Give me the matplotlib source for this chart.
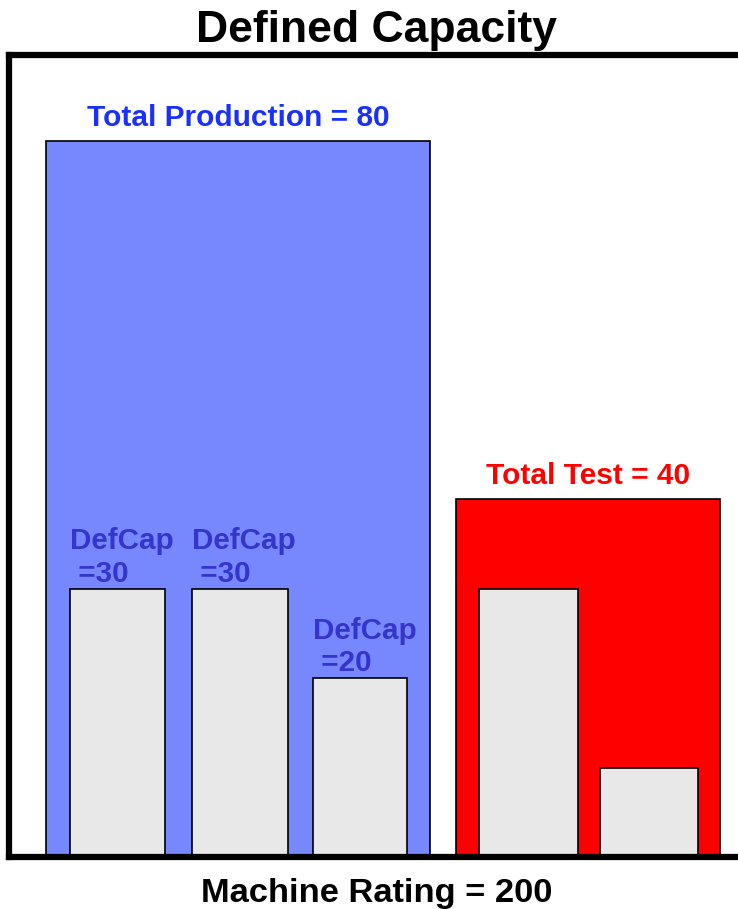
import matplotlib
matplotlib.use("Agg")
import matplotlib.pyplot as plt

# capacity figures shown in the diagram
group_names = ["Total Production", "Total Test"]
group_totals = [80, 40]
prod_defcap = [30, 30, 20]
test_defcap = [30, 10]
machine_rating = 200

# layout: x in pixel columns, y in capacity units
group_x = [(46, 430), (456, 720)]
prod_x = [(70, 165), (192, 288), (313, 407)]
test_x = [(479, 578), (600, 698)]
group_colors = ["#7788FF", "#FF0000"]
label_colors = ["#1A30FF", "#FF0000"]
defcap_color = "#3535CC"
inner_color = "#E8E8E8"

W, H = 738, 909
px_per_unit = 8.95
y_bottom, y_top = 857, 55

plt.rcParams['font.family'] = ['Liberation Sans', 'DejaVu Sans']
fig = plt.figure(figsize=(W / 100, H / 100), dpi=100)
ax = fig.add_axes([9 / W, (H - y_bottom) / H, 1 - 9 / W, (y_bottom - y_top) / H])
ax.set_xlim(9, W)
ax.set_ylim(0, (y_bottom - y_top) / px_per_unit)

# group boxes
for (x0, x1), total, name, col, lcol in zip(group_x, group_totals, group_names,
                                             group_colors, label_colors):
    ax.bar(x0, total, width=x1 - x0, align='edge', color=col,
           edgecolor='black', linewidth=1.2, zorder=1)
    ax.annotate(f"{name} = {total}", xy=((x0 + x1) / 2, total),
                xytext=(0, 10.5), textcoords='offset points', ha='center',
                va='baseline', fontsize=21.5, fontweight='bold', color=lcol)

# machines inside production
for (x0, x1), v in zip(prod_x, prod_defcap):
    ax.bar(x0, v, width=x1 - x0, align='edge', color=inner_color,
           edgecolor='black', linewidth=1.2, zorder=2)
    ax.annotate(f"DefCap\n ={v}", xy=(x0, v), xytext=(0, 5),
                textcoords='offset points', ha='left', va='baseline',
                fontsize=21.3, fontweight='bold', color=defcap_color,
                linespacing=1.2)

# machines inside test
for (x0, x1), v in zip(test_x, test_defcap):
    ax.bar(x0, v, width=x1 - x0, align='edge', color=inner_color,
           edgecolor='black', linewidth=1.2, zorder=2)

for s in ['left', 'top', 'bottom']:
    ax.spines[s].set_linewidth(4.5)
    ax.spines[s].set_zorder(5)
ax.spines['right'].set_visible(False)
ax.set_xticks([])
ax.set_yticks([])

fig.text(376 / W, 1 - 42 / H, "Defined Capacity", ha='center', va='baseline',
         fontsize=32, fontweight='bold')
fig.text(377 / W, 1 - 902 / H, f"Machine Rating = {machine_rating}",
         ha='center', va='baseline', fontsize=24.8, fontweight='bold')

fig.savefig("out.png", dpi=100)
